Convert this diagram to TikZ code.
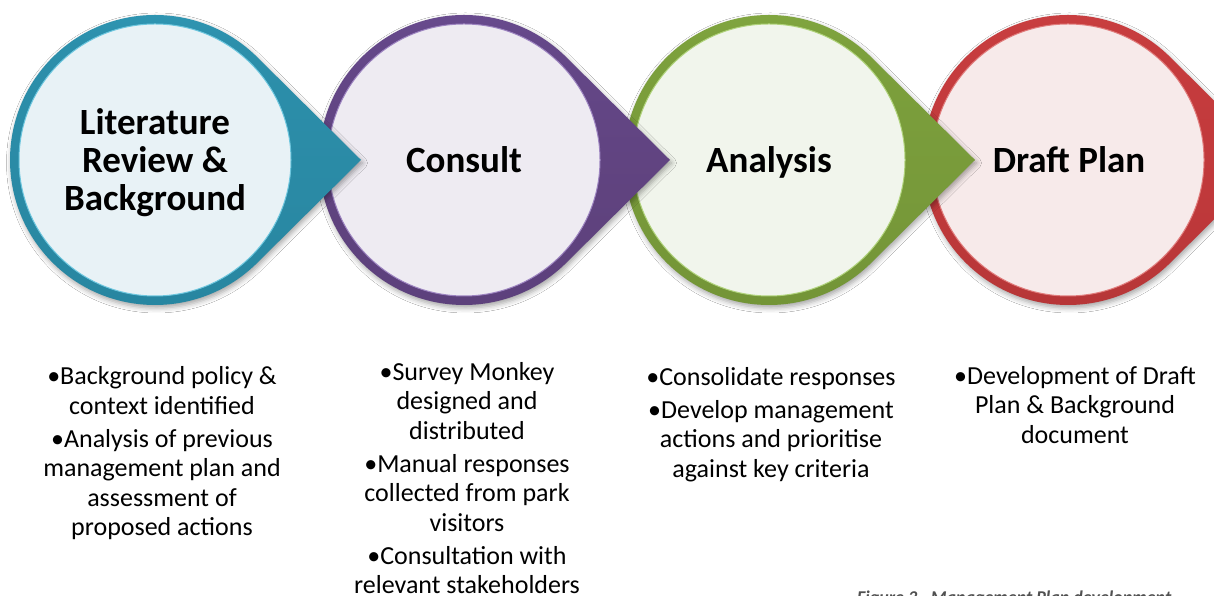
\documentclass[tikz,border=0pt]{standalone}
\usepackage{fontspec}
\setmainfont{Carlito}
\usetikzlibrary{shadows.blur}
\definecolor{tealI}{HTML}{E8F2F6}
\definecolor{tealE}{HTML}{6CC6DE}
\definecolor{purI}{HTML}{EEEBF2}
\definecolor{purE}{HTML}{9C83C0}
\definecolor{grnI}{HTML}{F1F5EC}
\definecolor{grnE}{HTML}{AFD27A}
\definecolor{redI}{HTML}{F7EAEA}
\definecolor{redE}{HTML}{E07C7C}
\definecolor{capgray}{HTML}{505050}
\pgfdeclareverticalshading{tealsh}{100bp}{color(0bp)=(rgb,255:red,35;green,128;blue,154); color(45bp)=(rgb,255:red,42;green,138;blue,165); color(68bp)=(rgb,255:red,44;green,143;blue,171); color(100bp)=(rgb,255:red,62;green,181;blue,213)}
\pgfdeclareverticalshading{pursh}{100bp}{color(0bp)=(rgb,255:red,87;green,61;blue,120); color(45bp)=(rgb,255:red,96;green,67;blue,127); color(68bp)=(rgb,255:red,100;green,71;blue,136); color(100bp)=(rgb,255:red,126;green,93;blue,171)}
\pgfdeclareverticalshading{grnsh}{100bp}{color(0bp)=(rgb,255:red,108;green,140;blue,50); color(45bp)=(rgb,255:red,120;green,154;blue,58); color(68bp)=(rgb,255:red,124;green,160;blue,60); color(100bp)=(rgb,255:red,151;green,195;blue,83)}
\pgfdeclareverticalshading{redsh}{100bp}{color(0bp)=(rgb,255:red,168;green,50;blue,51); color(45bp)=(rgb,255:red,192;green,57;blue,59); color(68bp)=(rgb,255:red,198;green,60;blue,62); color(100bp)=(rgb,255:red,212;green,75;blue,75)}
\tikzset{
  dropsh/.style={blur shadow={shadow xshift=1.5pt, shadow yshift=-3pt, shadow blur radius=5pt, shadow opacity=35}},
  title/.style={align=center, font=\fontsize{37}{38}\selectfont\bfseries, inner sep=0pt, anchor=base},
  bullets/.style={align=center, font=\fontsize{26}{29.5}\selectfont, inner sep=0pt, anchor=base},
}
\newcommand\drop[3]{%
  \shade[shading=#2, dropsh]
    (#1+206,436) -- ([shift={(#1,436)}]45:145) arc[start angle=45, end angle=315, radius=145] -- cycle;
  \fill[#3] (#1,436) circle[radius=136];
}
\begin{document}
\begin{tikzpicture}[x=1pt, y=1pt]
\useasboundingbox[fill=white] (0,0) rectangle (1214,596);
% circles drawn right to left so that each pointer lies over the next circle
\drop{1068}{redsh}{redI}
\draw[redE, line width=1pt] (1068,436) circle[radius=136];
\node[title] (dp) at (1069,423) {Draft Plan};
\drop{769}{grnsh}{grnI}
\draw[grnE, line width=1pt] (769,436) circle[radius=136];
\node[title] (an) at (769,423) {Analysis};
\drop{464}{pursh}{purI}
\draw[purE, line width=1pt] (464,436) circle[radius=136];
\node[title] (co) at (464,423) {Consult};
\drop{155}{tealsh}{tealI}
\draw[tealE, line width=1pt] (155,436) circle[radius=136];
\node[title] (lr) at (155,385) {Literature\\Review \&\\Background};
% bullet texts (base anchor = baseline of the last line)
\node[bullets] (t1) at (162,60) {•Background policy \&\\context identified\\[3.5pt]•Analysis of previous\\management plan and\\assessment of\\proposed actions};
\node[bullets] (t2) at (467,2) {•Survey Monkey\\designed and\\distributed\\[3.5pt]•Manual responses\\collected from park\\visitors\\[3.5pt]•Consultation with\\relevant stakeholders};
\node[bullets] (t3) at (771,118.5) {•Consolidate responses\\[3.5pt]•Develop management\\actions and prioritise\\against key criteria};
\node[bullets] (t4) at (1075,152.5) {•Development of Draft\\Plan \& Background\\document};
% caption, cut by the lower edge
\node[anchor=base west, inner sep=0pt, text=capgray, font=\fontsize{18}{20}\selectfont\bfseries\itshape] (cap) at (857,-8) {Figure 3 - Management Plan development};
\end{tikzpicture}
\end{document}
